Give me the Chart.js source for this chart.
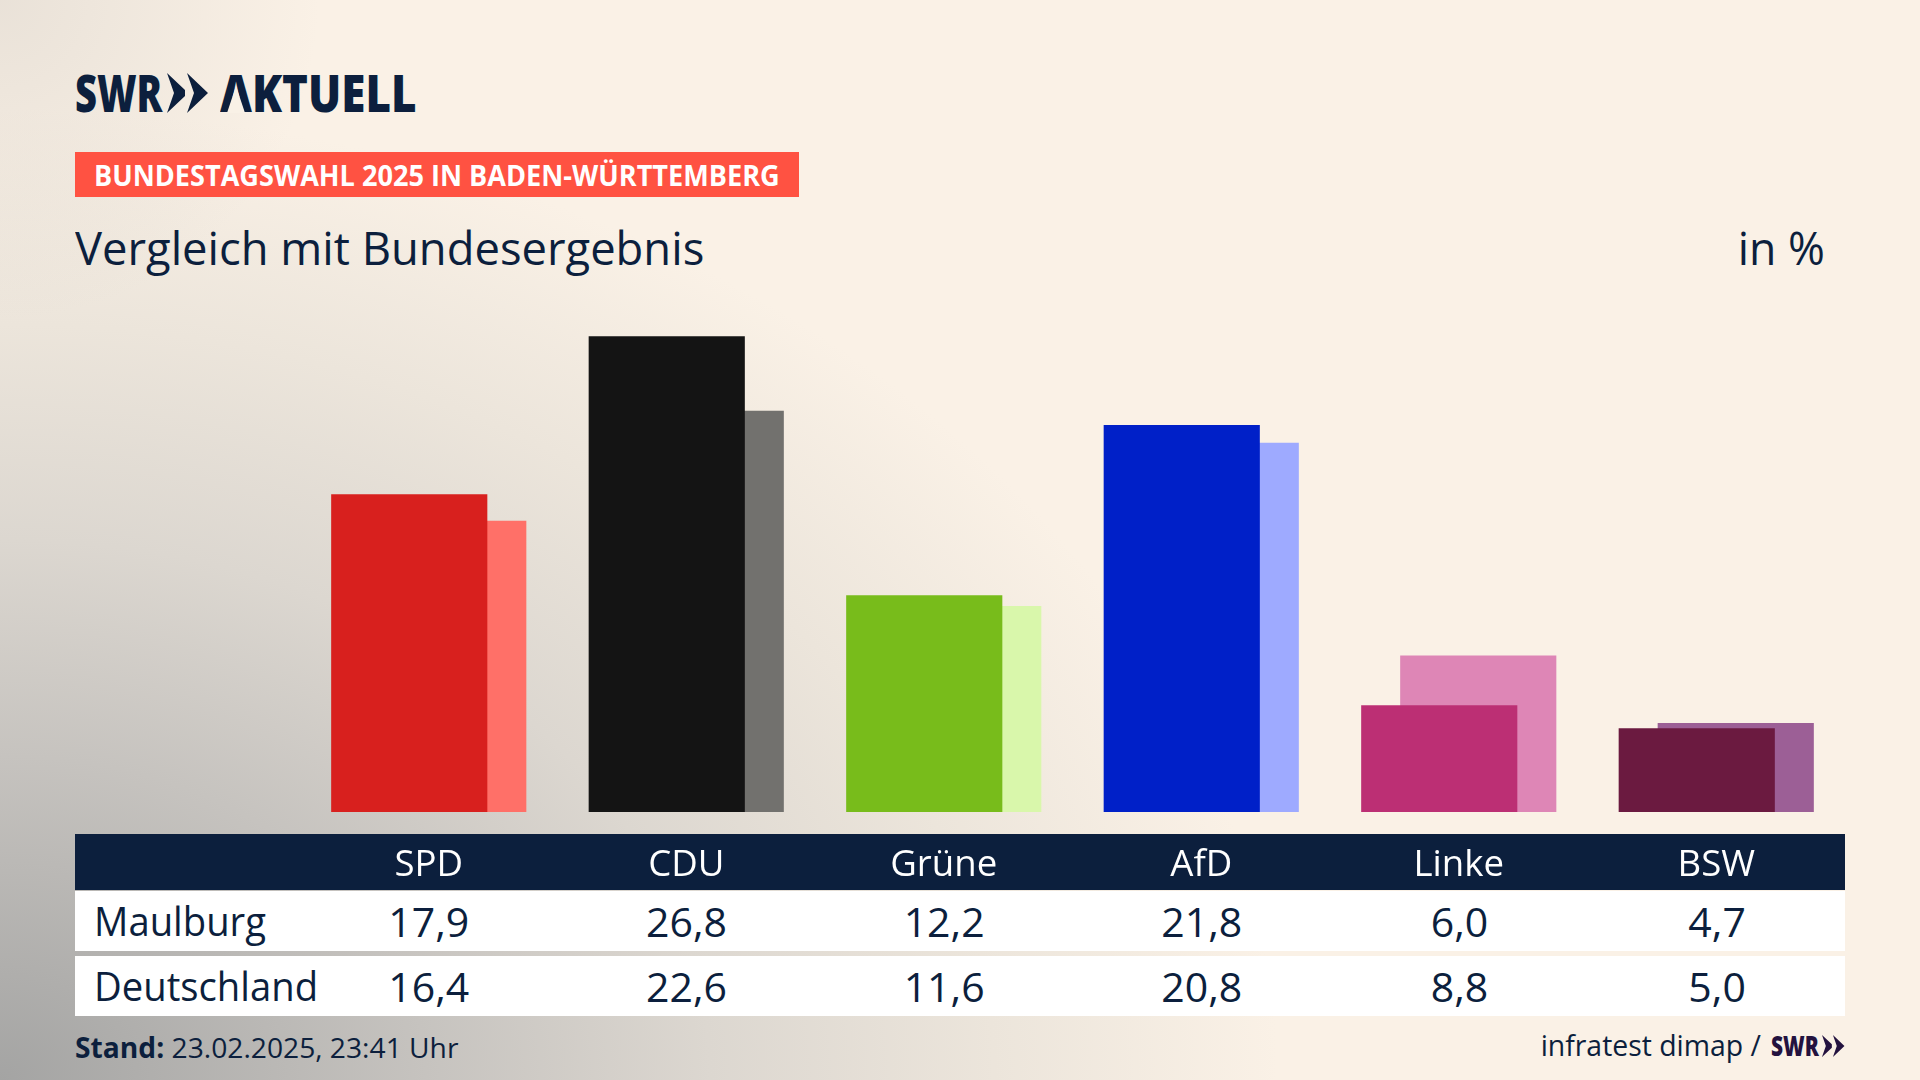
<!DOCTYPE html>
<html lang="de"><head><meta charset="utf-8">
<script src="https://cdn.jsdelivr.net/npm/chart.js@4"></script>
<style>
html,body{margin:0;padding:0;width:1920px;height:1080px;overflow:hidden}
body{position:relative;color:#0c1f3d;font-family:"Open Sans",sans-serif;
background:radial-gradient(circle 320px at 0% 0%,rgba(190,186,180,.28),rgba(190,186,180,0)),
radial-gradient(ellipse 1420px 1080px at 0% 100%,#a4a4a3 0%,#c6c3bf 30%,#dcd7d0 50%,#ece5db 70%,#faf1e6 90%),#faf1e6}
.abs{position:absolute;white-space:nowrap}
canvas{position:absolute;left:0;top:0;z-index:2}
.lg{position:absolute;top:61px;font:800 52px/62px "Open Sans",sans-serif;color:#0c1f3d;transform-origin:0 50%}
#badge{left:75px;top:152px;width:724px;height:45px;background:#ff5242}
#badge span{position:absolute;left:19px;top:0;color:#fff;font-weight:700;font-size:29px;line-height:45px;white-space:nowrap;transform:scaleX(.935);transform-origin:0 50%}
#title{left:75px;top:221px;font-size:46px;line-height:52px;transform:scaleX(.986);transform-origin:0 50%}
#unit{right:95px;top:221px;font-size:46px;line-height:52px;transform:scaleX(.97);transform-origin:100% 50%}
#head{left:75px;top:834px;width:1770px;height:56px;background:#0c1f3d;z-index:1}
.row{position:absolute;left:75px;width:1770px;height:60px;background:#fff;display:grid;grid-template-columns:225px repeat(6,257.667px);align-items:center;font-size:41px;line-height:60px}
.row div{text-align:center}
.row div:first-child{text-align:left;padding-left:19px;font-size:39.5px;transform:scaleX(.968);transform-origin:19px 50%}
#foot{left:75px;top:1030px;font-size:28.2px;line-height:34px}
#src{right:75px;top:1028px;font-size:28.4px;line-height:34px;display:flex;align-items:center}
</style></head><body>
<div class="lg" style="left:75px;transform:scaleX(.733)">SWR</div>
<svg class="abs" style="left:167px;top:73px" width="42" height="40" viewBox="0 0 42 40"><path d="M0 0L18 17V23L0 40 7 20zM20 0L41 20 20 40 27 20z" fill="#0c1f3d"/></svg>
<div class="lg" style="left:220px;transform:scaleX(.845)">AKTUELL</div>
<svg class="abs" style="left:220px;top:75px" width="32" height="38" viewBox="0 0 32 38"><path d="M16 11L7 38H25z" fill="#f9f1e6"/></svg>
<div class="abs" id="badge"><span>BUNDESTAGSWAHL 2025 IN BADEN-WÜRTTEMBERG</span></div>
<div class="abs" id="title">Vergleich mit Bundesergebnis</div>
<div class="abs" id="unit">in %</div>
<div class="abs" id="head"></div>
<div class="row" id="r1" style="top:891px"></div>
<div class="row" id="r2" style="top:956px"></div>
<div class="abs" id="foot"><b>Stand:</b> 23.02.2025, 23:41 Uhr</div>
<div class="abs" id="src"><span>infratest dimap /</span><span style="position:relative;width:84px;height:34px;display:inline-block;color:#23123f;font-weight:800"><span style="position:absolute;left:10px;top:0;font-size:29px;transform:scaleX(.72);transform-origin:0 50%">SWR</span><svg style="position:absolute;left:61px;top:7px" width="23" height="22" viewBox="0 0 42 40"><path d="M0 0L18 17V23L0 40 7 20zM20 0L41 20 20 40 27 20z" fill="#23123f"/></svg></span></div>
<canvas id="c" width="1920" height="1080"></canvas>
<script>
const categories=["SPD","CDU","Grüne","AfD","Linke","BSW"];
const maulburgLabel="Maulburg";
const deutschlandLabel="Deutschland";
const maulburg=[17.9,26.8,12.2,21.8,6.0,4.7];
const deutschland=[16.4,22.6,11.6,20.8,8.8,5.0];
const frontColors=["#d8201e","#141414","#78bc1b","#0020c8","#bc2f74","#6b1a40"];
const backColors=["#ff7068","#72716e","#d9f7ab","#9eaaff","#de86b6","#9c5f96"];
const fmt=v=>v.toFixed(1).replace(".",",");
function fill(id,label,vals){document.getElementById(id).innerHTML=`<div>${label}</div>`+vals.map(v=>`<div>${fmt(v)}</div>`).join("");}
fill("r1",maulburgLabel,maulburg);fill("r2",deutschlandLabel,deutschland);
const barWidth=155.5, shift=39;
const shiftBars={id:"shiftBars",afterDatasetsUpdate(ch){
  ch.getDatasetMeta(0).data.forEach(b=>{b.x-=shift/2;});
  ch.getDatasetMeta(1).data.forEach(b=>{b.x+=shift/2;});
}};
new Chart(document.getElementById("c"),{type:"bar",
 data:{labels:categories,datasets:[
  {label:maulburgLabel,data:maulburg,backgroundColor:frontColors,order:1},
  {label:deutschlandLabel,data:deutschland,backgroundColor:backColors,order:2}]},
 plugins:[shiftBars],
 options:{responsive:false,animation:false,devicePixelRatio:1,
  layout:{padding:{left:300,right:75,top:279,bottom:0}},
  datasets:{bar:{grouped:false,barThickness:barWidth,borderWidth:0}},
  plugins:{legend:{display:false},tooltip:{enabled:false},title:{display:false}},
  scales:{
   y:{display:false,min:0,max:30.05},
   x:{grid:{display:false},border:{display:false},
      ticks:{color:"#fff",padding:24,maxRotation:0,font:{family:'"Open Sans",sans-serif',size:36.6}},
      afterFit(s){s.height=268;}}
  }}});
</script></body></html>
